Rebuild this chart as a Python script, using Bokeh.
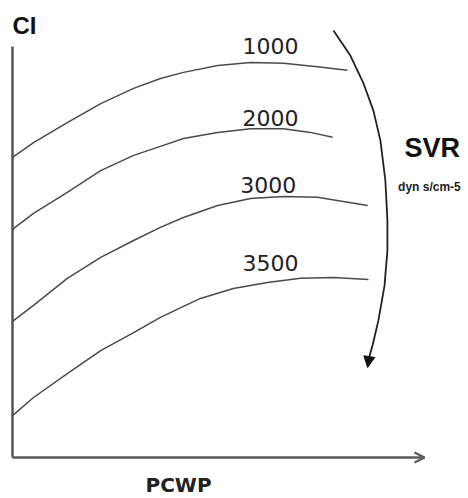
from bokeh.plotting import figure
from bokeh.models import Range1d, Arrow, OpenHead, NormalHead
from bokeh.core.properties import value
from bokeh.embed import file_html
from bokeh.resources import INLINE

# Axis extents (schematic units 0-100)
axis_x = [0, 100]
axis_y = [0, 100]

# SVR iso-curves: PCWP (x) vs CI (y)
c1000_x = [0, 5.1, 13.3, 21.4, 29.4, 35.9, 41.5, 49.8, 57.8, 65.8, 74.0, 81.3]
c1000_y = [73.0, 76.6, 81.5, 86.1, 89.8, 92.2, 93.7, 95.4, 96.1, 95.9, 95.1, 94.2]

c2000_x = [0, 5.1, 13.3, 21.4, 29.4, 35.9, 41.5, 49.8, 57.8, 65.8, 72.3, 77.7]
c2000_y = [55.5, 59.4, 64.5, 69.8, 73.5, 75.7, 77.6, 79.1, 80.0, 80.0, 79.1, 77.9]

c3000_x = [0, 5.1, 13.3, 21.4, 29.4, 35.9, 41.5, 49.8, 57.8, 65.8, 74.0, 80.3, 86.2]
c3000_y = [33.1, 37.0, 43.6, 48.7, 52.8, 56.0, 58.4, 61.3, 63.0, 63.5, 63.3, 62.3, 61.3]

c3500_x = [0, 5.1, 13.3, 21.4, 29.4, 35.9, 45.6, 53.6, 61.9, 69.9, 77.9, 86.4]
c3500_y = [10.2, 14.6, 20.4, 26.0, 30.4, 34.1, 38.7, 41.1, 42.6, 43.6, 43.8, 43.3]

curve_labels = ["1000", "2000", "3000", "3500"]
label_x = [62.6, 62.6, 62.1, 62.6]
label_y = [100.2, 82.7, 66.2, 47.4]

# SVR direction arrow
svr_x = [77.9, 82.0, 85.2, 87.6, 89.3, 90.5, 91.0, 91.0, 90.3, 88.8, 87.4, 86.6]
svr_y = [103.9, 97.8, 91.0, 84.4, 77.1, 67.4, 57.7, 50.4, 41.8, 33.3, 27.3, 24.5]
svr_tip = (86.2, 21.9)

p = figure(width=468, height=498,
           x_range=Range1d(-2.913, 110.68), y_range=Range1d(-9.976, 111.19),
           x_axis_type=None, y_axis_type=None,
           toolbar_location=None, output_backend="svg", min_border=0)
p.outline_line_color = None
p.grid.visible = False
p.background_fill_color = "white"

axis_col = "#5a5a5a"
# y axis
p.line([axis_x[0], axis_x[0]], [axis_y[0], axis_y[1]], line_color=axis_col, line_width=2.6)
# x axis with arrow head
p.add_layout(Arrow(end=OpenHead(size=10, line_width=2.4, line_color=axis_col),
                   x_start=axis_x[0], y_start=axis_y[0], x_end=axis_x[1], y_end=axis_y[0],
                   line_color=axis_col, line_width=2.6))

curve_col = "#4a4a4a"
for cx, cy in [(c1000_x, c1000_y), (c2000_x, c2000_y), (c3000_x, c3000_y), (c3500_x, c3500_y)]:
    p.line(cx, cy, line_color=curve_col, line_width=1.5)

p.text(x=label_x, y=label_y, text=curve_labels, text_font=value("DejaVu Sans"),
       text_font_size="22px", text_align="center", text_baseline="middle",
       text_color="#222222")

# SVR arrow
p.line(svr_x, svr_y, line_color="#222222", line_width=1.8)
p.add_layout(Arrow(end=NormalHead(size=11, fill_color="#111111", line_color="#111111"),
                   x_start=svr_x[-1], y_start=svr_y[-1], x_end=svr_tip[0], y_end=svr_tip[1],
                   line_color="#222222", line_width=1.8))

p.text(x=[0], y=[105.1], text=["CI"], text_font=value("Liberation Sans"),
       text_font_size="24px", text_font_style="bold", text_align="left",
       text_baseline="middle", text_color="#111111")
p.text(x=[101.9], y=[75.2], text=["SVR"], text_font=value("Liberation Sans"),
       text_font_size="27px", text_font_style="bold", text_align="center",
       text_baseline="middle", text_color="#111111")
p.text(x=[101.2], y=[65.9], text=["dyn s/cm-5"], text_font=value("Liberation Sans"),
       text_font_size="12px", text_font_style="bold", text_align="center",
       text_baseline="middle", text_color="#222222")
p.text(x=[40.3], y=[-6.6], text=["PCWP"], text_font=value("DejaVu Sans"),
       text_font_size="20px", text_font_style="bold", text_align="center",
       text_baseline="middle", text_color="#222222")

open("out.html", "w").write(file_html(p, INLINE))
